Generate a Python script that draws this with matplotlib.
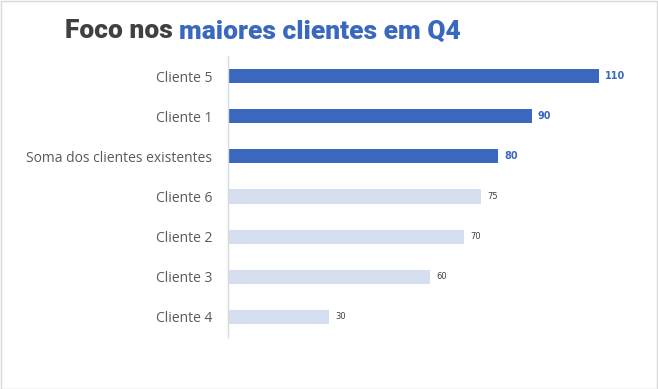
import matplotlib
matplotlib.use("Agg")
import matplotlib.pyplot as plt
from matplotlib.patches import Rectangle

categories = ["Cliente 5", "Cliente 1", "Soma dos clientes existentes",
              "Cliente 6", "Cliente 2", "Cliente 3", "Cliente 4"]
values = [110, 90, 80, 75, 70, 60, 30]
highlight = [True, True, True, False, False, False, False]

DARK = "#3A68BE"
LIGHT = "#D6DFF0"
GRAY = "#595959"

W, H = 658, 389
fig = plt.figure(figsize=(W / 100, H / 100), dpi=100)
fig.patch.set_facecolor("white")
fig.patches.append(Rectangle((0.5 / W, 0.5 / H), 1 - 1.5 / W, 1 - 1.5 / H,
                             transform=fig.transFigure, fill=False,
                             edgecolor="#D9D9D9", linewidth=1))

left = 228 / W
top = 56
bottom = 337
xmax = 120
scale = (599 - 228) / 110
width = xmax * scale / W
ax = fig.add_axes([left, 1 - bottom / H, width, (bottom - top) / H])

ypos = list(range(len(categories)))
colors = [DARK if h else LIGHT for h in highlight]
ax.barh(ypos, values, height=0.35, color=colors)
ax.set_ylim(len(categories) - 0.5, -0.5)
ax.set_xlim(0, xmax)
ax.set_yticks(ypos)
ax.set_yticklabels(categories, fontsize=10, color=GRAY, family="Open Sans")
ax.tick_params(axis="y", length=0, pad=11.5)
ax.set_xticks([])
for s in ["top", "right", "bottom"]:
    ax.spines[s].set_visible(False)
ax.spines["left"].set_color("#D9D9D9")
ax.spines["left"].set_linewidth(1)

for y, v, h in zip(ypos, values, highlight):
    if h:
        ax.annotate(str(v), xy=(v, y), xytext=(4.5, 0), textcoords="offset points",
                    va="center", ha="left", fontsize=7, fontweight="bold",
                    color=DARK, family="DejaVu Sans")
    else:
        ax.annotate(str(v), xy=(v, y), xytext=(4.5, 0), textcoords="offset points",
                    va="center", ha="left", fontsize=6, color="#404040",
                    family="DejaVu Sans")

t1 = fig.text(65 / W, 1 - 38.5 / H, "Foco nos ", fontsize=19, fontweight="black",
              color="#404040", family="Roboto", va="baseline", ha="left")
ax.annotate("maiores clientes em Q4", xy=(1, 0), xycoords=t1, va="bottom",
            ha="left", fontsize=19, fontweight="black", color=DARK,
            family="Roboto", annotation_clip=False)

fig.savefig("out.png", dpi=100, facecolor="white")
